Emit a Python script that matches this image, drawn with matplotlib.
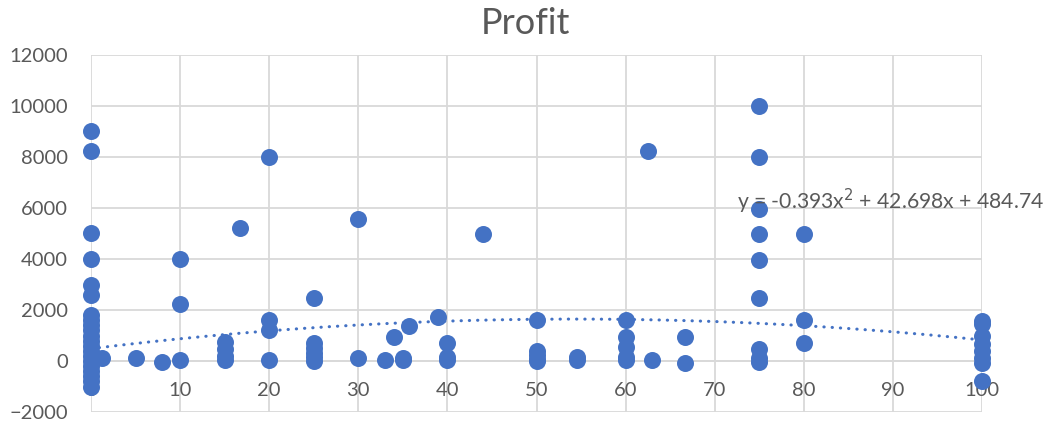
import matplotlib
matplotlib.use("Agg")
import matplotlib.pyplot as plt
import numpy as np

plt.rcParams['font.family'] = ['Lato', 'DejaVu Sans']

title = "Profit"

x0_vals = [9000, 8250, 5000, 4000, 3000, 2600, 1800, 1600, 1400, 1200, 1000, 800,
           600, 400, 200, 0, -200, -400, -600, -800, -1000]

xs = ([0] * len(x0_vals) +
      [1.2, 5, 8,
       10, 10, 10,
       15, 15, 15, 15,
       16.7,
       20, 20, 20, 20,
       25, 25, 25, 25, 25, 25,
       30, 30,
       33, 34, 35, 35, 35.7, 39,
       40, 40, 40,
       44,
       50, 50, 50, 50, 50,
       54.5, 54.5,
       60, 60, 60, 60, 60,
       62.5, 63, 66.7, 66.7,
       75, 75, 75, 75, 75, 75, 75, 75, 75,
       80, 80, 80,
       100, 100, 100, 100, 100, 100, 100, 100])
ys = (x0_vals +
      [130, 100, -30,
       4000, 2250, 40,
       750, 480, 200, 30,
       5230,
       8000, 1620, 1220, 20,
       2460, 720, 520, 330, 150, 10,
       5570, 130,
       40, 930, 130, 40, 1380, 1740,
       720, 150, 20,
       4990,
       1610, 380, 220, 80, 0,
       140, 30,
       1610, 940, 540, 170, 40,
       8250, 30, 930, -80,
       10000, 8000, 5970, 4990, 3960, 2460, 470, 130, -20,
       4990, 1610, 720,
       1580, 1450, 990, 660, 400, 130, -60, -780])

coef = [-0.393, 42.698, 484.74]
eq_label = "y = -0.393x$^{2}$ + 42.698x + 484.74"

xticks = [0, 10, 20, 30, 40, 50, 60, 70, 80, 90, 100]
yticks = [-2000, 0, 2000, 4000, 6000, 8000, 10000, 12000]

blue = "#4472C4"
grid = "#D9D9D9"
txt = "#595959"

fig = plt.figure(figsize=(10.5, 4.23), dpi=100)
ax = fig.add_axes([91/1050, 1-412/423, (982-91)/1050, (412-55)/423])

ax.set_xlim(0, 100)
ax.set_ylim(-2000, 12000)
ax.set_xticks(xticks)
ax.set_yticks(yticks)
ax.grid(True, color=grid, linewidth=1.3)
ax.set_axisbelow(True)
for s in ['top', 'right', 'left']:
    ax.spines[s].set_visible(False)
ax.spines['bottom'].set_position(('data', 0))
ax.spines['bottom'].set_color(grid)
ax.spines['bottom'].set_linewidth(1.3)
ax.tick_params(axis='both', length=0, labelsize=14.5, labelcolor=txt)
ax.tick_params(axis='y', pad=16.5)
ax.tick_params(axis='x', pad=15)

ax.scatter(xs, ys, s=150, color=blue, zorder=3, clip_on=False, linewidths=0)

xf = np.linspace(0, 100, 300)
yf = np.polyval(coef, xf)
ax.plot(xf, yf, color=blue, linewidth=2.2, linestyle=(0, (0.1, 2.6)),
        dash_capstyle='round', zorder=2)

ax.text(72.5, 6250, eq_label, fontsize=15.2, color=txt, ha='left', va='center',
        zorder=4, clip_on=False)

fig.text(0.5, 1 - 23/423, title, ha='center', va='center', fontsize=26, color=txt)

fig.savefig("out.png", dpi=100)
